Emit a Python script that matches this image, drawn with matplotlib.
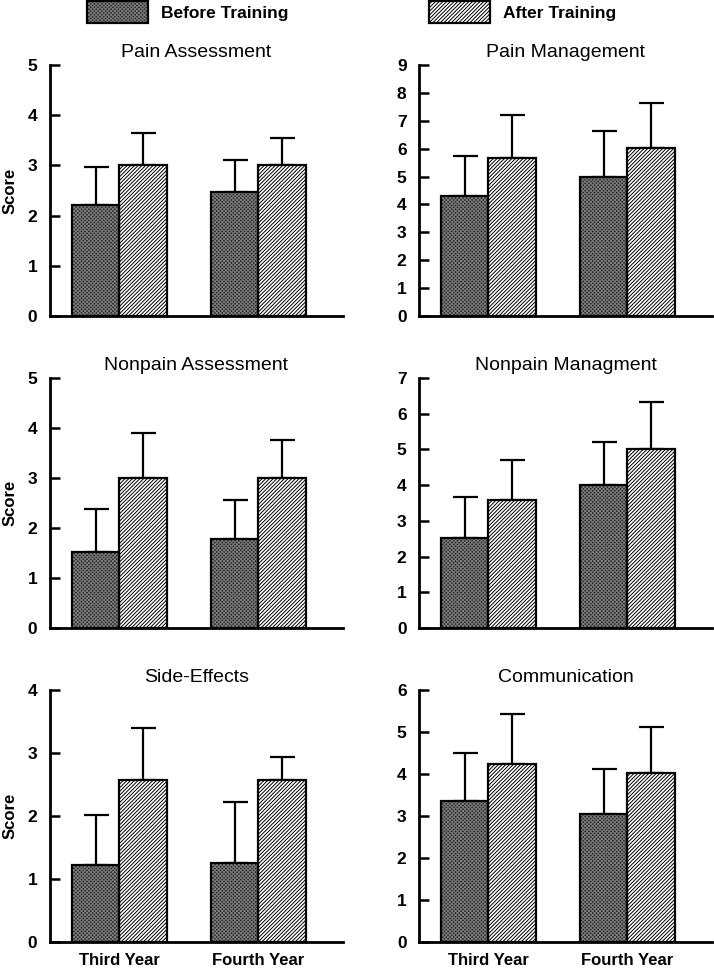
import matplotlib
import matplotlib.pyplot as plt
import numpy as np
from matplotlib.patches import Patch

matplotlib.use("Agg")

plt.rcParams["font.family"] = ["Liberation Sans", "DejaVu Sans"]
plt.rcParams["hatch.linewidth"] = 0.7

# panel data (Third Year, Fourth Year)
titles = ["Pain Assessment", "Pain Management",
          "Nonpain Assessment", "Nonpain Managment",
          "Side-Effects", "Communication"]
y_max = [5, 9, 5, 7, 4, 6]
years = ["Third Year", "Fourth Year"]

before_means = [[2.22, 2.47], [4.30, 5.00], [1.52, 1.79],
                [2.52, 4.00], [1.22, 1.26], [3.35, 3.04]]
before_sd = [[0.74, 0.64], [1.45, 1.62], [0.86, 0.78],
             [1.16, 1.22], [0.80, 0.96], [1.15, 1.09]]
after_means = [[3.00, 3.00], [5.68, 6.02], [3.00, 3.00],
               [3.58, 5.02], [2.57, 2.57], [4.23, 4.02]]
after_sd = [[0.65, 0.55], [1.52, 1.63], [0.90, 0.77],
            [1.13, 1.31], [0.82, 0.37], [1.20, 1.10]]

BEFORE_FACE = "#2a2a2a"
BEFORE_HATCH = "#7a7a7a"
BEFORE_PATTERN = "x" * 9
AFTER_FACE = "white"
AFTER_HATCH = "black"
AFTER_PATTERN = "/" * 9

fig = plt.figure(figsize=(7.14, 9.68), dpi=100, facecolor="white")

W, H = 714.0, 968.0
col_px = [(50, 293), (419, 293)]
row_px = [(65, 316), (378, 628), (690, 942)]

width = 0.34
x = np.arange(len(years))


def draw_bars(ax, xs, means, face, hatch_color, hatch):
    ax.bar(xs, means, width, color=face, edgecolor=hatch_color,
           hatch=hatch, linewidth=0, zorder=2)
    ax.bar(xs, means, width, fill=False, edgecolor="black",
           linewidth=1.6, zorder=3)


for i, title in enumerate(titles):
    row, col = divmod(i, 2)
    left, w = col_px[col]
    top, bottom = row_px[row]
    ax = fig.add_axes([left / W, 1 - bottom / H, w / W, (bottom - top) / H])

    for xs, means, sd in [(x - width / 2, before_means[i], before_sd[i]),
                          (x + width / 2, after_means[i], after_sd[i])]:
        ax.errorbar(xs, means, yerr=[np.zeros(len(sd)), sd], fmt="none",
                    ecolor="black", elinewidth=1.6, capsize=9, capthick=1.6,
                    zorder=1)

    draw_bars(ax, x - width / 2, before_means[i], BEFORE_FACE, BEFORE_HATCH, BEFORE_PATTERN)
    draw_bars(ax, x + width / 2, after_means[i], AFTER_FACE, AFTER_HATCH, AFTER_PATTERN)

    ax.set_xlim(-0.5, 1.61)
    ax.set_ylim(0, y_max[i])
    ticks = np.arange(0, y_max[i] + 1)
    ax.set_yticks(ticks, [str(t) for t in ticks], fontweight="bold", fontsize=12.5)
    ax.tick_params(axis="y", direction="in", length=7, width=1.8, pad=9)

    if row == 2:
        ax.set_xticks(x, years, fontweight="bold", fontsize=12)
    else:
        ax.set_xticks(x, ["", ""])
    ax.tick_params(axis="x", length=0, pad=8)

    for side in ["top", "right"]:
        ax.spines[side].set_visible(False)
    for side in ["left", "bottom"]:
        ax.spines[side].set_linewidth(2.0)

    ax.set_title(title, fontsize=14, pad=6)
    if col == 0:
        ax.set_ylabel("Score", fontweight="bold", fontsize=12, labelpad=7)

before_handle = (Patch(facecolor=BEFORE_FACE, edgecolor=BEFORE_HATCH, hatch=BEFORE_PATTERN, linewidth=0),
                 Patch(fill=False, edgecolor="black", linewidth=1.6))
after_handle = (Patch(facecolor=AFTER_FACE, edgecolor=AFTER_HATCH, hatch=AFTER_PATTERN, linewidth=0),
                Patch(fill=False, edgecolor="black", linewidth=1.6))

for handle, label, x_px in [(before_handle, "Before Training", 86),
                            (after_handle, "After Training", 428)]:
    fig.legend([handle], [label], loc="upper left",
               bbox_to_anchor=(x_px / W, 1.0), frameon=False,
               borderpad=0, borderaxespad=0.05, handlelength=3.5,
               handleheight=1.6, handletextpad=0.75,
               prop={"weight": "bold", "size": 12.5})

fig.savefig("out.png", dpi=100, facecolor="white")
